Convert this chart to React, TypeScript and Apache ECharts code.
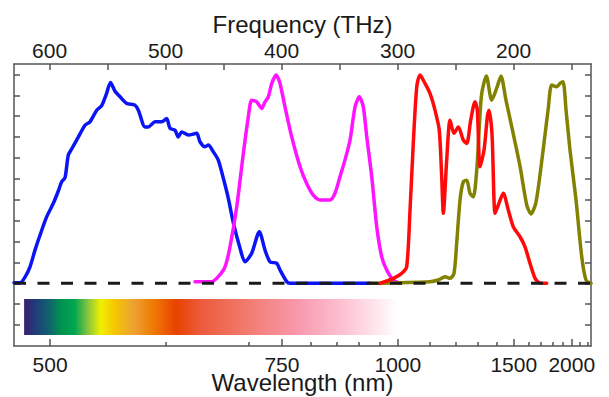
import React, { useEffect, useRef } from "react";
import * as echarts from "echarts";

const C_NM_THZ = 299792.458;
const FONT = "'Liberation Sans', Arial, sans-serif";

// Axis extents (frequency in THz, high frequency on the left)
const freqMin = 133.3;
const freqMax = 630.7;
const yMin = -3;
const yMax = 10.5;

// Tick labels
const freqTickValues = [150, 200, 250, 300, 350, 400, 450, 500, 550, 600];
const freqLabelValues = [200, 300, 400, 500, 600];
const wavelengthLabelValues = [500, 750, 1000, 1500, 2000];
const wavelengthMinorTicks = [600, 700, 800, 850, 900, 950, 1100, 1200, 1300, 1400, 1600, 1700, 1800, 1900, 2100, 2200];
const yTickValues = [-2, -1, 0, 1, 2, 3, 4, 5, 6, 7, 8, 9, 10];

// Visible spectrum band (nm) and its colours
const spectrumBandNm = [482, 1000];
const spectrumBandY = [-0.75, -2.47];
const spectrumStops = [0, 0.03, 0.065, 0.1, 0.135, 0.17, 0.205, 0.24, 0.293, 0.346, 0.408, 0.47, 0.594, 0.735, 0.859, 1];
const spectrumColors = ["#3a1d6e", "#1f3d7a", "#12606f", "#00954f", "#00a650", "#86c440", "#eef000", "#f6c800", "#eca233", "#ef7a05", "#e84200", "#ec5a3a", "#f27a6e", "#f999ae", "#fdc3d3", "#ffffff"];

// Series (frequency THz, intensity)
const blueFreq = [630.7, 625.5, 621.2, 616.9, 612.6, 608.3, 602.5, 596.8, 592.5, 589.6, 586.7, 583.9, 581.0, 575.3, 569.5, 565.2, 559.4, 555.1, 551.1, 547.5, 543.6, 539.3, 533.5, 526.4, 523.5, 517.8, 514.9, 509.1, 503.4, 499.1, 496.2, 491.9, 489.1, 486.1, 480.4, 473.2, 470.4, 466.0, 463.2, 458.9, 454.6, 450.3, 446.0, 441.6, 435.9, 431.6, 425.8, 419.2, 414.3, 410.0, 404.2, 401.4, 395.6, 392.8, 323.8];
const blueVal = [0.03, 0.03, 0.3, 0.79, 1.59, 2.3, 3.19, 3.83, 4.42, 4.86, 5.06, 6.14, 6.43, 7.0, 7.57, 7.73, 8.29, 8.51, 9.06, 9.61, 9.2, 8.93, 8.61, 8.53, 8.29, 7.49, 7.49, 7.73, 7.73, 7.89, 7.42, 7.33, 7.01, 7.25, 7.1, 7.18, 6.78, 6.54, 6.62, 6.3, 5.9, 5.04, 4.08, 2.89, 1.69, 1.03, 1.44, 2.47, 1.59, 1.03, 0.96, 0.64, 0.08, 0, 0];

const magentaFreq = [474.7, 460.3, 454.6, 448.8, 444.5, 438.7, 433.0, 428.7, 425.8, 421.5, 417.2, 414.3, 411.5, 408.5, 404.8, 401.4, 397.1, 391.3, 384.1, 378.4, 372.7, 366.9, 358.3, 354.0, 349.7, 345.4, 341.0, 336.7, 333.0, 329.6, 326.6, 322.3, 318.0, 313.7, 309.4, 303.7, 297.9];
const magentaVal = [0.08, 0.08, 0.32, 0.79, 1.75, 3.67, 6.22, 7.97, 8.77, 8.69, 8.37, 8.69, 8.93, 9.57, 9.97, 9.57, 8.45, 7.01, 5.58, 4.78, 4.22, 3.99, 3.99, 4.31, 5.1, 5.9, 6.86, 8.45, 8.93, 8.45, 7.01, 5.1, 2.71, 1.27, 0.64, 0.16, 0.01];

const redFreq = [315.2, 303.7, 296.5, 292.2, 289.3, 286.5, 283.5, 280.7, 276.4, 272.1, 267.8, 264.1, 262.0, 260.6, 257.7, 254.8, 251.4, 247.7, 243.4, 240.4, 237.0, 233.3, 231.3, 229.0, 225.5, 222.5, 221.2, 218.6, 216.0, 213.2, 208.9, 204.6, 200.3, 194.5, 190.2, 185.9, 181.6, 177.2, 171.5];
const redVal = [0, 0.24, 0.48, 0.79, 3.51, 6.7, 9.41, 9.97, 9.57, 9.09, 8.29, 7.33, 5.1, 3.35, 5.9, 7.81, 7.18, 7.49, 6.86, 6.7, 7.81, 8.69, 8.29, 5.58, 6.38, 8.05, 8.29, 7.1, 3.35, 3.75, 4.31, 3.51, 2.71, 2.23, 1.75, 0.96, 0.25, 0.01, 0];

const oliveFreq = [323.8, 272.1, 264.9, 259.1, 254.8, 251.4, 249.1, 246.2, 243.4, 240.4, 237.6, 234.7, 231.8, 229.6, 227.5, 223.5, 218.9, 214.6, 210.9, 206.6, 201.0, 194.5, 188.7, 185.0, 180.7, 175.1, 170.1, 167.2, 162.8, 160.0, 157.4, 154.8, 151.4, 146.2, 141.3, 137.6, 133.3];
const oliveVal = [0, 0.08, 0.16, 0.32, 0.24, 0.48, 1.91, 3.99, 4.86, 4.94, 4.31, 4.14, 5.42, 7.49, 9.09, 9.92, 8.77, 9.34, 9.92, 8.77, 7.33, 5.61, 3.75, 3.32, 3.89, 6.14, 8.39, 9.49, 9.41, 9.57, 9.65, 8.29, 6.38, 3.99, 1.27, 0.16, 0];

const nmToThz = (nm: number) => C_NM_THZ / nm;
const pairs = (xs: number[], ys: number[]) => xs.map((x, i) => [x, ys[i]]);

const AXIS_COLOR = "#555";
const TEXT_COLOR = "#1a1a1a";

export default function App() {
  const ref = useRef<HTMLDivElement>(null);
  useEffect(() => {
    if (!ref.current) return;
    const chart = echarts.init(ref.current, undefined, { renderer: "svg" });
    const lineSeries = (name: string, color: string, xs: number[], ys: number[]) => ({
      name,
      type: "line",
      xAxisIndex: 0,
      yAxisIndex: 0,
      data: pairs(xs, ys),
      symbol: "none",
      smooth: 0.25,
      lineStyle: { color, width: 3.5, cap: "round", join: "round" },
      silent: true,
    });
    const baseX = {
      type: "value",
      min: freqMin,
      max: freqMax,
      inverse: true,
      splitLine: { show: false },
    };
    const option: any = {
      animation: false,
      grid: { left: 14, right: 18, top: 64, bottom: 51, containLabel: false, outerBoundsMode: "none" },
      xAxis: [
        {
          ...baseX,
          position: "bottom",
          name: "Wavelength (nm)",
          nameLocation: "middle",
          nameGap: 27,
          nameMoveOverlap: false,
          nameTextStyle: { fontSize: 24, lineHeight: 18, color: TEXT_COLOR, fontFamily: FONT },
          axisLine: { show: true, onZero: false, lineStyle: { color: AXIS_COLOR, width: 1.5 } },
          axisTick: {
            show: true,
            inside: true,
            length: 7,
            customValues: wavelengthLabelValues.map(nmToThz),
            lineStyle: { color: AXIS_COLOR, width: 1.5 },
          },
          axisLabel: {
            show: true,
            margin: 11,
            fontSize: 21,
            lineHeight: 14,
            color: TEXT_COLOR,
            fontFamily: FONT,
            customValues: wavelengthLabelValues.map(nmToThz),
            formatter: (v: number) => String(Math.round(C_NM_THZ / v)),
          },
        },
        {
          ...baseX,
          position: "bottom",
          axisLine: { show: false, onZero: false },
          axisTick: {
            show: true,
            inside: true,
            length: 4,
            customValues: wavelengthMinorTicks.map(nmToThz),
            lineStyle: { color: AXIS_COLOR, width: 1.5 },
          },
          axisLabel: { show: false },
        },
        {
          ...baseX,
          position: "top",
          name: "Frequency (THz)",
          nameLocation: "middle",
          nameGap: 28,
          nameMoveOverlap: false,
          nameTextStyle: { fontSize: 24, color: TEXT_COLOR, fontFamily: FONT },
          axisLine: { show: true, onZero: false, lineStyle: { color: AXIS_COLOR, width: 1.5 } },
          axisTick: {
            show: true,
            inside: true,
            length: 6,
            customValues: freqTickValues,
            lineStyle: { color: AXIS_COLOR, width: 1.5 },
          },
          axisLabel: {
            show: true,
            margin: 3,
            fontSize: 21,
            color: TEXT_COLOR,
            fontFamily: FONT,
            customValues: freqLabelValues,
          },
        },
      ],
      yAxis: [
        {
          type: "value",
          min: yMin,
          max: yMax,
          position: "left",
          axisLine: { show: true, onZero: false, lineStyle: { color: AXIS_COLOR, width: 1.5 } },
          axisTick: { show: true, inside: true, length: 6, customValues: yTickValues, lineStyle: { color: AXIS_COLOR, width: 1.5 } },
          axisLabel: { show: false },
          splitLine: { show: false },
        },
        {
          type: "value",
          min: yMin,
          max: yMax,
          position: "right",
          axisLine: { show: true, onZero: false, lineStyle: { color: AXIS_COLOR, width: 1.5 } },
          axisTick: { show: true, inside: true, length: 6, customValues: yTickValues, lineStyle: { color: AXIS_COLOR, width: 1.5 } },
          axisLabel: { show: false },
          splitLine: { show: false },
        },
      ],
      series: [
        lineSeries("blue", "#0a14f5", blueFreq, blueVal),
        lineSeries("magenta", "#ff14ff", magentaFreq, magentaVal),
        lineSeries("olive", "#828200", oliveFreq, oliveVal),
        lineSeries("red", "#ff0a0a", redFreq, redVal),
        {
          name: "baseline",
          type: "line",
          xAxisIndex: 0,
          yAxisIndex: 0,
          data: [[freqMax, 0], [freqMin, 0]],
          symbol: "none",
          z: 10,
          silent: true,
          lineStyle: { color: "#1a1a1a", width: 3, type: [12, 11.5] },
          markArea: {
            silent: true,
            label: { show: false },
            itemStyle: {
              opacity: 1,
              color: new echarts.graphic.LinearGradient(
                0, 0, 1, 0,
                spectrumStops.map((o, i) => ({ offset: o, color: spectrumColors[i] }))
              ),
            },
            data: [
              [
                { xAxis: nmToThz(spectrumBandNm[0]), yAxis: spectrumBandY[0] },
                { xAxis: nmToThz(spectrumBandNm[1]), yAxis: spectrumBandY[1] },
              ],
            ],
          },
        },
      ],
    };
    chart.setOption(option);
    return () => chart.dispose();
  }, []);
  return (
    <div
      ref={ref}
      style={{ position: "fixed", left: 0, top: 0, width: 609, height: 397, background: "#fff" }}
    />
  );
}
